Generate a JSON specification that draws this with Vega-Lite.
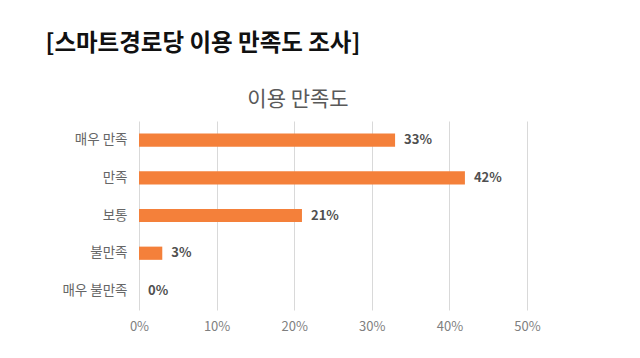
{
  "$schema": "https://vega.github.io/schema/vega-lite/v6.json",
  "autosize": {"type": "none"},
  "padding": {"left": 139, "top": 121, "right": 113, "bottom": 48},
  "width": 388,
  "height": 189,
  "background": "white",
  "config": {"font": "Noto Sans CJK KR", "view": {"stroke": null}},
  "title": {
    "text": "이용 만족도",
    "anchor": "middle",
    "dx": -35,
    "dy": 89,
    "offset": 10,
    "fontSize": 21,
    "fontWeight": "normal",
    "color": "#595959",
    "font": "Noto Sans CJK KR"
  },
  "data": {
    "values": [
      {"category": "매우 만족", "value": 0.33},
      {"category": "만족", "value": 0.42},
      {"category": "보통", "value": 0.21},
      {"category": "불만족", "value": 0.03},
      {"category": "매우 불만족", "value": 0.0}
    ]
  },
  "encoding": {
    "y": {
      "field": "category",
      "type": "nominal",
      "sort": null,
      "scale": {"paddingInner": 0.65, "paddingOuter": 0.33},
      "axis": {
        "title": "[스마트경로당 이용 만족도 조사]",
        "titleAngle": 0,
        "titleX": -94,
        "titleY": -71,
        "titleAlign": "left",
        "titleBaseline": "alphabetic",
        "titleFontSize": 23.5,
        "titleFontWeight": "bold",
        "titleColor": "#111111",
        "titleFont": "Noto Sans CJK KR",
        "domain": false,
        "ticks": false,
        "labelPadding": 12,
        "labelFontSize": 13.5,
        "labelColor": "#666666"
      }
    },
    "x": {
      "field": "value",
      "type": "quantitative",
      "scale": {"domain": [0, 0.5], "nice": false},
      "axis": {
        "title": null,
        "format": ".0%",
        "values": [0, 0.1, 0.2, 0.3, 0.4, 0.5],
        "domain": false,
        "ticks": false,
        "grid": true,
        "gridColor": "#d9d9d9",
        "labelFlush": false,
        "labelPadding": 10,
        "labelFontSize": 13,
        "labelColor": "#7f7f7f"
      }
    }
  },
  "layer": [
    {"mark": {"type": "bar", "color": "#f4803a"}},
    {
      "mark": {"type": "text", "align": "left", "baseline": "middle", "dx": 9, "fontSize": 13, "fontWeight": "bold", "color": "#505050"},
      "encoding": {"text": {"field": "value", "type": "quantitative", "format": ".0%"}}
    }
  ]
}
